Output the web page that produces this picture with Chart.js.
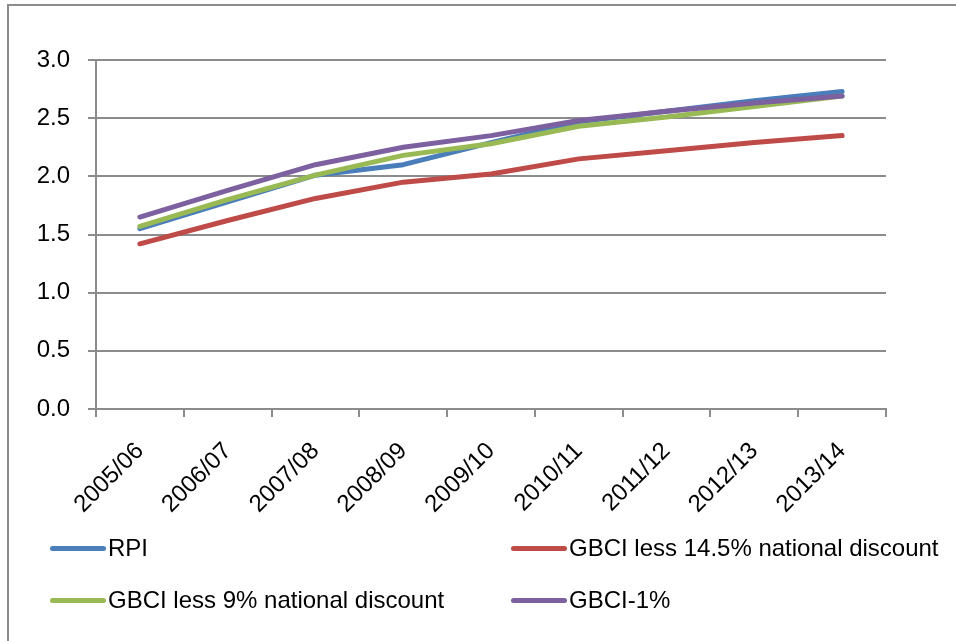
<!DOCTYPE html>
<html lang="en">
<head>
    <meta charset="UTF-8">
    <title>RPI vs GBCI</title>
    <script src="https://cdn.jsdelivr.net/npm/chart.js"></script>
    <style>
        body { margin: 0; background: #fff; }
        #wrap { position: relative; width: 956px; height: 641px; overflow: hidden; }
        #frame { position: absolute; left: 7px; top: 4px; width: 1200px; height: 900px;
                 border-left: 2px solid #8c8c8c; border-top: 2px solid #8c8c8c; }
        canvas { position: absolute; left: 0; top: 0; }
        .leg { position: absolute; font-family: "Liberation Sans", Arial, sans-serif; font-size: 24px;
               color: #000; white-space: nowrap; line-height: 26px; }
        .leg span { display: inline-block; width: 56px; height: 5px; border-radius: 3px;
                    vertical-align: middle; margin-right: 2px; position: relative; top: -1px; }
    </style>
</head>
<body>
<div id="wrap">
    <div id="frame"></div>
    <canvas id="myLineChart" width="956" height="641"></canvas>
</div>

<script>
    // categories and series
    const years = ['2005/06', '2006/07', '2007/08', '2008/09', '2009/10', '2010/11', '2011/12', '2012/13', '2013/14'];
    const rpi = [1.55, 1.78, 2.01, 2.10, 2.29, 2.47, 2.56, 2.65, 2.73];
    const gbci145 = [1.42, 1.62, 1.81, 1.95, 2.02, 2.15, 2.22, 2.29, 2.35];
    const gbci9 = [1.57, 1.80, 2.01, 2.18, 2.28, 2.43, 2.51, 2.60, 2.69];
    const gbci1 = [1.65, 1.88, 2.10, 2.25, 2.35, 2.48, 2.56, 2.63, 2.69];
    const yTicks = [0, 0.5, 1.0, 1.5, 2.0, 2.5, 3.0];

    const seriesNames = ['RPI', 'GBCI less 14.5% national discount', 'GBCI less 9% national discount', 'GBCI-1%'];
    const seriesColors = ['#4a7ebb', '#be4b48', '#98b954', '#7d60a0'];
    const seriesData = [rpi, gbci145, gbci9, gbci1];

    const font = { family: '"Liberation Sans", Arial, sans-serif', size: 24 };

    const datasets = seriesNames.map((name, i) => ({
        label: name,
        data: seriesData[i],
        borderColor: seriesColors[i],
        backgroundColor: seriesColors[i],
        borderWidth: 5,
        borderCapStyle: 'round',
        borderJoinStyle: 'round',
        pointRadius: 0,
        fill: false,
        tension: 0,
        order: 4 - i   // later series drawn on top
    }));

    const ctx = document.getElementById('myLineChart').getContext('2d');
    const myLineChart = new Chart(ctx, {
        type: 'line',
        data: { labels: years, datasets: datasets },
        options: {
            responsive: false,
            animation: false,
            layout: { padding: { top: 60, right: 70, left: 0, bottom: 0 } },
            plugins: { legend: { display: false }, tooltip: { enabled: false } },
            scales: {
                x: {
                    offset: true,
                    grid: { offset: true, drawOnChartArea: false, drawTicks: true, tickLength: 8,
                            color: '#8c8c8c', lineWidth: 2 },
                    border: { color: '#8c8c8c', width: 2 },
                    ticks: { font: font, color: '#000', minRotation: 45, maxRotation: 45, padding: 20 },
                    afterFit: scale => { scale.height = 232; }
                },
                y: {
                    min: 0,
                    max: 3,
                    afterBuildTicks: scale => { scale.ticks = yTicks.map(v => ({ value: v })); },
                    grid: { color: '#8c8c8c', lineWidth: 2, tickLength: 8 },
                    border: { color: '#8c8c8c', width: 2 },
                    ticks: { font: font, color: '#000', padding: 18,
                             callback: v => Number(v).toFixed(1) },
                    afterFit: scale => { scale.width = 96; }
                }
            }
        }
    });

    // legend in two columns like the original
    const legendPos = [[50, 535], [511, 535], [50, 587], [511, 587]];
    seriesNames.forEach((name, i) => {
        const d = document.createElement('div');
        d.className = 'leg';
        d.style.left = legendPos[i][0] + 'px';
        d.style.top = legendPos[i][1] + 'px';
        d.innerHTML = '<span style="background:' + seriesColors[i] + '"></span>' + name;
        document.getElementById('wrap').appendChild(d);
    });
</script>
</body>
</html>
